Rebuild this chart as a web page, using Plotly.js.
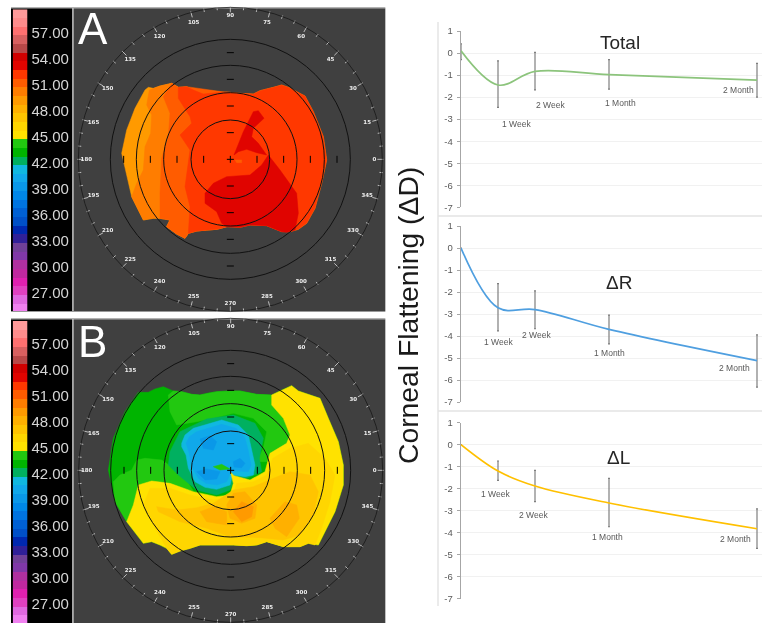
<!DOCTYPE html>
<html><head><meta charset="utf-8">
<script src="https://cdn.plot.ly/plotly-3.0.1.min.js"></script>
<style>html,body{margin:0;padding:0;background:#fff}#plot{width:762px;height:623px;filter:blur(0.4px)}</style>
</head><body><div id="plot"></div>
<script>
// ---- colour key of the topography maps (dioptres) ----
const swatchLevels = [59,58,57,56,55,54,53,52,51,50,49,48,47,46,45,44,43,42,41,40,39,38,37,36,35,34,33,32,31,30,29,28,27,26,25];
const swatchColors = ['#ff9a9a','#ff8c8c','#ff7070','#d86060','#b84848','#d00000','#e00400','#ff3800','#ff5c00','#ff7d00','#ff9a00','#ffb000','#ffc400','#ffd600','#ffe200','#22c810','#00b400','#00b060','#10b8e0','#10a8ea','#0a98e8','#0088e8','#0074e0','#0060d4','#0050c8','#0028b0','#302098','#704098','#8038a8','#b030a0','#c028a0','#e020b0','#e040c0','#e068e0','#f080f0'];
const keyTicks = [57,54,51,48,45,42,39,36,33,30,27];
const keyTickText = ['57.00','54.00','51.00','48.00','45.00','42.00','39.00','36.00','33.00','30.00','27.00'];

// ---- map A zones [x,y] in map units ----
const A_49 = [[435,270],[445,262],[460,265],[480,258],[515,250],[535,262],[560,260],[580,270],[610,282],[640,279],[680,276],[720,280],[760,282],[780,272],[800,268],[820,262],[845,255],[865,262],[880,270],[915,288],[940,335],[970,410],[980,480],[965,550],[945,625],[920,670],[895,688],[870,695],[845,695],[800,677],[750,675],[720,682],[680,680],[650,688],[620,690],[590,693],[565,700],[555,715],[530,702],[500,680],[510,660],[480,655],[460,655],[430,660],[395,590],[365,460],[380,390],[405,325]];
const A_50 = [[448,270],[460,265],[480,258],[515,250],[535,262],[700,280],[700,675],[650,688],[620,690],[590,693],[565,700],[555,715],[530,702],[500,680],[510,660],[480,655],[460,655],[430,660],[395,590],[410,550],[430,510],[435,440],[452,400],[455,345],[440,315]];
const A_51 = [[515,250],[535,262],[560,260],[700,280],[700,675],[650,688],[620,690],[590,693],[565,700],[555,715],[530,702],[500,680],[510,660],[480,655],[480,580],[485,475],[505,410],[510,340],[490,290]];
const A_52 = [[535,262],[560,260],[580,270],[610,282],[640,279],[680,276],[720,280],[760,282],[780,272],[800,268],[820,262],[845,255],[865,262],[880,270],[915,288],[940,335],[970,410],[980,480],[965,550],[945,625],[920,670],[895,688],[870,695],[845,695],[800,677],[750,675],[720,682],[680,680],[650,688],[620,690],[590,693],[565,700],[570,620],[555,560],[570,450],[540,405],[575,370],[570,350],[535,295]];
const A_53a = [[805,465],[840,510],[890,580],[895,640],[885,690],[860,697],[845,695],[800,677],[750,675],[720,682],[680,680],[665,670],[650,635],[615,610],[615,580],[640,550],[680,530],[750,525],[785,495]];
const A_53b = [[702,465],[730,395],[760,335],[775,332],[792,355],[760,385],[755,410],[775,430],[800,465],[770,458],[740,448],[715,455]];
const A_51b = [[705,480],[725,480],[725,488],[710,488]];
const zonesA = [[49,A_49],[50,A_50],[51,A_51],[52,A_52],[53,A_53a],[53,A_53b],[51,A_51b]];

// ---- map B zones ----
const B_43 = [[415,232],[445,232],[465,222],[490,215],[520,228],[545,230],[575,238],[600,240],[625,234],[650,230],[690,228],[720,228],[770,238],[815,240],[845,225],[875,212],[895,228],[915,235],[960,250],[985,310],[1015,380],[1030,450],[1030,510],[1005,590],[975,650],[955,690],[925,685],[900,695],[850,695],[800,680],[770,690],[740,692],[700,690],[650,690],[600,690],[570,700],[540,708],[515,718],[500,700],[480,690],[455,680],[430,685],[380,620],[345,560],[325,465],[340,370],[375,290]];
const B_44a = [[505,240],[520,228],[545,230],[575,238],[600,240],[625,234],[650,230],[690,228],[720,228],[770,238],[815,240],[815,270],[850,310],[870,360],[865,390],[820,410],[800,440],[770,440],[790,400],[800,350],[760,310],[700,295],[640,310],[590,320],[530,330],[510,290]];
const B_44b = [[345,560],[380,620],[400,570],[415,510],[455,500],[530,520],[580,528],[550,480],[485,435],[435,430],[410,435],[395,465],[360,480],[340,500]];
const B_42 = [[510,410],[540,350],[620,312],[700,300],[765,325],[790,370],[778,430],[785,470],[740,490],[705,490],[690,525],[650,540],[590,525],[535,480],[505,450]];
const B_41 = [[545,385],[555,360],[580,340],[625,327],[665,315],[715,330],[745,360],[755,405],[765,450],[760,480],[735,485],[700,480],[695,490],[690,510],[650,523],[615,517],[585,500],[565,460],[558,420],[545,395]];
const B_40 = [[558,385],[568,365],[590,350],[630,338],[665,328],[708,340],[735,368],[745,408],[753,450],[745,470],[710,468],[692,472],[680,500],[650,510],[618,505],[595,490],[575,455],[568,415]];
const B_39 = [[600,372],[630,362],[650,380],[640,405],[610,400]];
const B_39b = [[590,470],[620,462],[660,470],[650,492],[615,495]];
const B_39c = [[700,440],[720,430],[735,445],[725,458],[702,456]];
const B_44c = [[640,455],[665,448],[690,462],[660,465]];
const B_45 = [[815,240],[845,225],[875,212],[895,228],[915,235],[960,250],[985,310],[1015,380],[1030,450],[1030,510],[1005,590],[975,650],[955,690],[925,685],[900,695],[850,695],[800,680],[770,690],[740,692],[700,690],[650,690],[600,690],[570,700],[540,708],[515,718],[500,700],[480,690],[455,680],[430,685],[380,620],[400,570],[415,510],[455,498],[510,505],[580,530],[650,545],[690,540],[700,505],[692,472],[702,482],[750,495],[795,470],[810,415],[860,385],[870,360],[850,310],[815,270]];
const B_46 = [[870,400],[925,385],[975,430],[1005,480],[990,560],[965,640],[945,690],[925,685],[900,695],[850,695],[800,680],[770,690],[740,692],[700,690],[650,690],[600,690],[570,700],[540,708],[515,718],[500,700],[465,640],[430,570],[450,520],[510,520],[570,540],[640,555],[695,550],[710,505],[760,500],[800,480],[818,430]];
const B_47 = [[820,490],[870,470],[930,480],[955,530],[940,600],[900,660],[850,675],[780,668],[690,665],[620,640],[540,620],[475,590],[470,575],[530,585],[590,578],[640,565],[700,525],[760,515]];
const B_48a = [[680,570],[700,535],[735,530],[770,570],[765,610],[725,625],[690,610]];
const B_48b = [[810,610],[855,560],[890,570],[898,610],[860,665],[825,640]];
const B_48c = [[600,590],[640,575],[680,590],[680,630],[620,620]];
const B_49 = [[700,590],[725,560],[760,575],[755,605],[725,620]];
const zonesB = [[43,B_43],[44,B_44a],[44,B_44b],[42,B_42],[41,B_41],[40,B_40],[39,B_39],[39,B_39b],[39,B_39c],[44,B_44c],[45,B_45],[46,B_46],[47,B_47],[48,B_48a],[48,B_48b],[48,B_48c],[49,B_49]];

// ---- protractor scale ----
const angleLabels = [0,15,30,45,60,75,90,105,120,135,150,165,180,195,210,225,240,255,270,285,300,315,330,345];
const ringRadii = [118,200,282,360,456];
const axisMarks = [-320,-240,-160,-80,80,160,240,320];

// ---- corneal flattening series ----
const weeks = [0,1,2,4,8];
const stageNames = ['1 Week','2 Week','1 Month','2 Month'];
const yTicks = [1,0,-1,-2,-3,-4,-5,-6,-7];
const yTickText = ['1','0','-1','-2','-3','-4','-5','-6','-7'];
const totalMean = [0.1,-1.45,-0.83,-0.98,-1.23];
const totalHigh = [0.42,-0.36,0.03,-0.3,-0.47];
const totalLow = [-0.3,-2.47,-1.67,-1.64,-2.0];
const totalLabelX = [1.49,2.43,4.3,7.49];
const totalLabelY = [-3.23,-2.36,-2.27,-1.68];
const rightMean = [0,-2.72,-2.8,-3.7,-5.12];
const rightHigh = [0,-1.62,-1.95,-3.05,-3.95];
const rightLow = [0,-3.77,-3.67,-4.36,-6.32];
const rightLabelX = [1.0,2.03,4.0,7.4];
const rightLabelY = [-4.27,-3.95,-4.77,-5.45];
const leftMean = [0,-1.2,-1.88,-2.65,-3.82];
const leftHigh = [0,-0.74,-1.17,-1.53,-2.92];
const leftLow = [0,-1.62,-2.59,-3.73,-4.71];
const leftLabelX = [0.92,1.95,3.97,7.43];
const leftLabelY = [-2.24,-3.2,-4.2,-4.29];

const W = 762, H = 623;
const dx = (a,b)=>[a/W,b/W], dy = (t,b)=>[1-b/H,1-t/H];
const colorOf = lv => swatchColors[swatchLevels.indexOf(lv)];
const traces = [], shapes = [], annotations = [];
const layout = {width:W,height:H,margin:{l:0,r:0,t:0,b:0,pad:0},paper_bgcolor:'#fff',plot_bgcolor:'rgba(0,0,0,0)',showlegend:false,font:{family:'"Liberation Sans",Arial,sans-serif'}};
const hidden = extra => Object.assign({visible:false,fixedrange:true},extra);

function addMap(zones,xa,ya,cx,cy,frameTop,frameBottom){
  const xr = xa, yr = ya;
  const rect = (x0,x1,y0,y1,c)=>shapes.push({type:'rect',xref:xr,yref:yr,x0,x1,y0,y1,fillcolor:c,line:{width:0},layer:'below'});
  rect(33,216,frameTop,frameBottom,'#000');
  rect(216,221,frameTop,frameBottom,'#a8a8a8');
  rect(221,1156,frameTop,frameBottom,'#404040');
  rect(33,1156,frameTop-3,frameTop,'#999');
  rect(33,1156,frameBottom,frameBottom+3,'#999');
  zones.forEach(([lv,poly])=>traces.push({type:'scatter',mode:'lines',xaxis:xa,yaxis:ya,x:poly.map(p=>p[0]).concat(poly[0][0]),y:poly.map(p=>p[1]).concat(poly[0][1]),fill:'toself',fillcolor:colorOf(lv),line:{color:colorOf(lv),width:0.5},hoverinfo:'skip'}));
  ringRadii.forEach(r=>shapes.push({type:'circle',xref:xr,yref:yr,x0:cx-r,x1:cx+r,y0:cy-r,y1:cy+r,line:{color:'#111',width:r>400?0.7:1},layer:'above'}));
  // scale ticks every 5 degrees, longer at labelled angles
  const tx=[],ty=[];
  for(let a=0;a<360;a+=5){const t=a*Math.PI/180,r0=a%15===0?441:449,r1=459;tx.push(cx+r0*Math.cos(t),cx+r1*Math.cos(t),null);ty.push(cy-r0*Math.sin(t),cy-r1*Math.sin(t),null);}
  traces.push({type:'scatter',mode:'lines',xaxis:xa,yaxis:ya,x:tx,y:ty,line:{color:'#dcdcdc',width:0.8},hoverinfo:'skip'});
  traces.push({type:'scatter',mode:'text',xaxis:xa,yaxis:ya,x:angleLabels.map(a=>cx+(a%90===0?432:425)*Math.cos(a*Math.PI/180)),y:angleLabels.map(a=>cy-(a%90===0?432:425)*Math.sin(a*Math.PI/180)),text:angleLabels.map(String),textposition:'middle center',textfont:{family:'"DejaVu Sans",sans-serif',size:5.5,color:'#eeeeee',weight:700},hoverinfo:'skip'});
  const mk=(xs,ys,sym)=>traces.push({type:'scatter',mode:'markers',xaxis:xa,yaxis:ya,x:xs,y:ys,marker:{symbol:sym,size:5,color:'#000',line:{color:'#000',width:1}},hoverinfo:'skip'});
  mk(axisMarks.map(m=>cx+m),axisMarks.map(()=>cy),'line-ns');
  mk(axisMarks.map(()=>cx),axisMarks.map(m=>cy+m),'line-ew');
  mk([cx],[cy],'cross-thin');
}
addMap(zonesA,'x','y',691,478,25,933);
addMap(zonesB,'x2','y2',692,466,13,930);
layout.xaxis = hidden({domain:dx(0,390),range:[0,1170]});
layout.yaxis = hidden({domain:dy(0,315),range:[945,0]});
layout.xaxis2 = hidden({domain:dx(0,390),range:[0,1170]});
layout.yaxis2 = hidden({domain:dy(315,623),range:[924,0]});

// colour keys
const scale=[];swatchLevels.slice().reverse().forEach((lv,i)=>{const c=colorOf(lv);scale.push([i/35,c],[(i+1)/35,c]);});
function addKey(xa,ya,xn,yn,top,bottom,lo){
  traces.push({type:'heatmap',xaxis:xa,yaxis:ya,x:[0],y:swatchLevels.map(v=>v+0.15),z:swatchLevels.map(v=>[v]),zmin:24.5,zmax:59.5,colorscale:scale,showscale:false,hoverinfo:'skip'});
  layout[xn]=hidden({domain:dx(12.7,27.4),range:[-0.5,0.5]});
  layout[yn]={domain:dy(top,bottom),range:[lo,59.65],anchor:xa,side:'right',tickmode:'array',tickvals:keyTicks,ticktext:keyTickText,ticks:'',showgrid:false,zeroline:false,showline:false,ticklabelstandoff:3,tickfont:{size:15,color:'#d6d6d6'},fixedrange:true};
}
addKey('x3','y3','xaxis3','yaxis3',9.33,311,24.85);
addKey('x4','y4','xaxis4','yaxis4',321,623,24.8);

// flattening panels
function addPanel(n,top,bottom,mean,hi,lo,color,lx,ly,title,tx,ty){
  const xa='x'+n, ya='y'+n;
  traces.push({type:'scatter',mode:'lines',xaxis:xa,yaxis:ya,x:weeks,y:mean,cliponaxis:false,line:{color,width:1.7,shape:'spline',smoothing:1},
    error_y:{type:'data',symmetric:false,array:hi.map((v,i)=>v-mean[i]),arrayminus:lo.map((v,i)=>mean[i]-v),color:'#7f7f7f',thickness:1.2,width:1},hoverinfo:'skip'});
  layout['xaxis'+n]=hidden({domain:dx(461,762),range:[0,8.135],anchor:ya});
  layout['yaxis'+n]={domain:dy(top,bottom),range:[-7,1],anchor:xa,tickmode:'array',tickvals:yTicks,ticktext:yTickText,showline:true,linecolor:'#a6a6a6',linewidth:1.4,ticks:'outside',ticklen:3,tickcolor:'#a6a6a6',tickwidth:1,gridcolor:'#f1f1f1',gridwidth:1,zeroline:false,tickfont:{size:9.5,color:'#595959'},ticklabelstandoff:2,fixedrange:true};
  stageNames.forEach((s,i)=>annotations.push({xref:xa,yref:ya,x:lx[i],y:ly[i],text:s,showarrow:false,font:{size:8.5,color:'#595959'},xanchor:'center',yanchor:'middle'}));
  annotations.push({xref:xa,yref:ya,x:tx,y:ty,text:title,showarrow:false,font:{size:19,color:'#262626'},xanchor:'center',yanchor:'middle'});
}
addPanel(5,31,207.3,totalMean,totalHigh,totalLow,'#8cc47c',totalLabelX,totalLabelY,'Total',4.3,0.5);
addPanel(6,226,402,rightMean,rightHigh,rightLow,'#4f9fe0',rightLabelX,rightLabelY,'ΔR',4.27,-1.55);
addPanel(7,422.7,598.7,leftMean,leftHigh,leftLow,'#ffc000',leftLabelX,leftLabelY,'ΔL',4.27,-0.57);

// panel frames
const pline=(x0,x1,y0,y1)=>shapes.push({type:'line',xref:'paper',yref:'paper',x0:x0/W,x1:x1/W,y0:1-y0/H,y1:1-y1/H,line:{color:'#e3e3e3',width:1.4},layer:'below'});
pline(438,438,22,606);pline(438,762,216,216);pline(438,762,411,411);

annotations.push({xref:'paper',yref:'paper',x:408/W,y:1-316/H,text:'Corneal Flattening (ΔD)',textangle:-90,showarrow:false,font:{size:28.3,color:'#1a1a1a'},xanchor:'center',yanchor:'middle'});
annotations.push({xref:'x',yref:'y',x:280,y:85,text:'A',showarrow:false,font:{size:44,color:'#fff'},xanchor:'center',yanchor:'middle'});
annotations.push({xref:'x2',yref:'y2',x:278,y:78,text:'B',showarrow:false,font:{size:44,color:'#fff'},xanchor:'center',yanchor:'middle'});
layout.shapes=shapes;layout.annotations=annotations;
Plotly.newPlot('plot',traces,layout,{displayModeBar:false,staticPlot:true});
</script></body></html>
